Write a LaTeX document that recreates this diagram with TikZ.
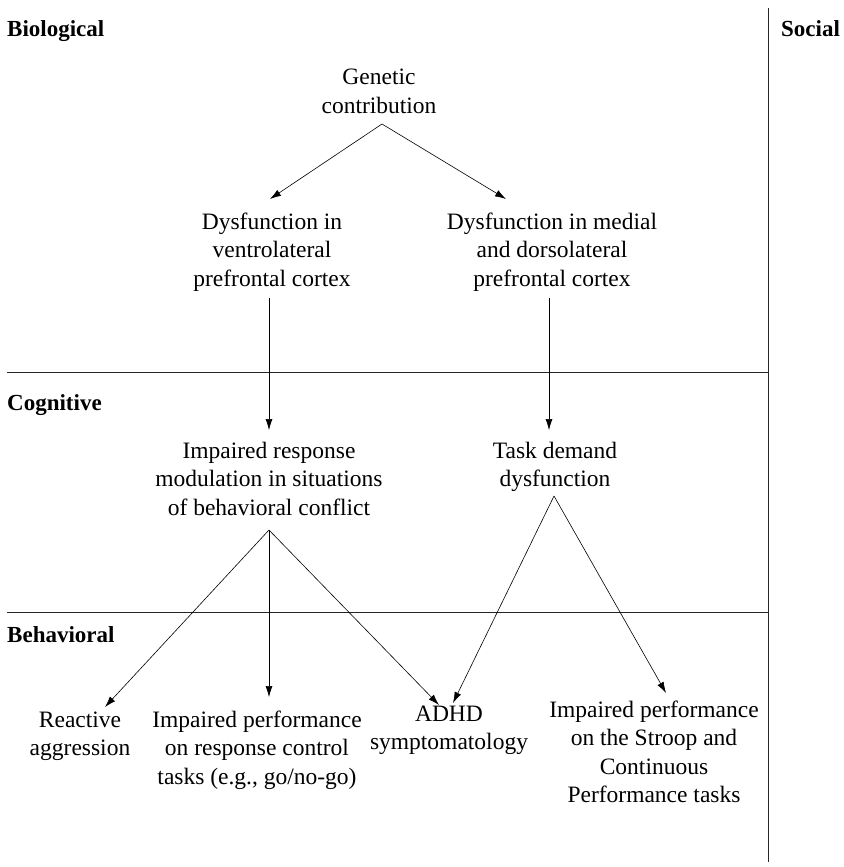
\documentclass[tikz,border=0pt]{standalone}
\usepackage{fontspec}
\setmainfont{Liberation Serif}
\usetikzlibrary{arrows.meta,calc}
\begin{document}
\begin{tikzpicture}[x=1pt,y=1pt,
  txt/.style={anchor=base,align=center,inner sep=0pt,font=\fontsize{23.5}{28.5}\selectfont},
  lab/.style={anchor=base west,inner sep=0pt,font=\fontsize{23}{28}\selectfont\bfseries},
  sep/.style={line width=0.8pt,black!85},
  arr/.style={line width=0.6pt,-{Latex[length=11pt,width=7pt]}}]
\useasboundingbox (0,0) rectangle (843,-867);
% frame lines
\coordinate (vtop) at (768,-8);
\coordinate (vbot) at (768,-862);
\coordinate (h1l) at (7,-372);
\coordinate (h1r) at (768,-372);
\coordinate (h2l) at (7,-612);
\coordinate (h2r) at (768,-612);
\draw[sep] (vtop) -- (vbot);
\draw[sep] (h1l) -- (h1r);
\draw[sep] (h2l) -- (h2r);
% labels
\node[lab] (bio) at (7,-37) {Biological};
\node[lab] (soc) at (781,-37) {Social};
\node[lab] (cog) at (7,-410) {Cognitive};
\node[lab] (beh) at (7,-642) {Behavioral};
% nodes (base = baseline of last line)
\node[txt] (gen) at (379,-113) {Genetic\\contribution};
\node[txt] (vl) at (272,-286) {Dysfunction in\\ventrolateral\\prefrontal cortex};
\node[txt] (ml) at (552,-286) {Dysfunction in medial\\and dorsolateral\\prefrontal cortex};
\node[txt] (irm) at (269,-515) {Impaired response\\modulation in situations\\of behavioral conflict};
\node[txt] (td) at (555,-486.5) {Task demand\\dysfunction};
\node[txt] (ra) at (80,-755.5) {Reactive\\aggression};
\node[txt] (ipr) at (257,-784) {Impaired performance\\on response control\\tasks (e.g., go/no-go)};
\node[txt] (adhd) at (449,-749.5) {ADHD\\symptomatology};
\node[txt] (stroop) at (654,-802.5) {Impaired performance\\on the Stroop and\\Continuous\\Performance tasks};
% connectors
\draw[arr] ($(gen.base)+(3,-11)$) -- ($(vl.base)+(-2,87)$);
\draw[arr] ($(gen.base)+(3,-11)$) -- ($(ml.base)+(-46,87)$);
\draw[arr] ($(vl.base)+(-3,-12)$) -- ($(irm.base)+(0,85)$);
\draw[arr] ($(ml.base)+(-3,-12)$) -- ($(td.base)+(-6,56.5)$);
\draw[arr] ($(irm.base)+(0,-15)$) -- ($(ra.base)+(25,48.5)$);
\draw[arr] ($(irm.base)+(0,-15)$) -- ($(ipr.base)+(12,87)$);
\draw[arr] ($(irm.base)+(0,-15)$) -- ($(adhd.base)+(-10,44.5)$);
\draw[arr] ($(td.base)+(-1,-9.5)$) -- ($(adhd.base)+(4,46.5)$);
\draw[arr] ($(td.base)+(-1,-9.5)$) -- ($(stroop.base)+(12,109.5)$);
\end{tikzpicture}
\end{document}
